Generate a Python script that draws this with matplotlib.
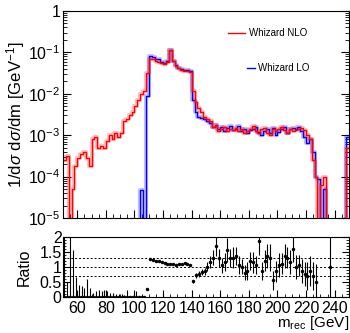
import numpy as np
import matplotlib
matplotlib.use("Agg")
import matplotlib.pyplot as plt
from matplotlib.ticker import MultipleLocator, LogLocator, FixedLocator, FuncFormatter, NullFormatter

plt.rcParams['font.family'] = ['Liberation Sans', 'DejaVu Sans']
plt.rcParams['mathtext.fontset'] = 'custom'
plt.rcParams['mathtext.rm'] = 'Liberation Sans'
plt.rcParams['mathtext.it'] = 'Liberation Sans:italic'

# binning: 2 GeV bins from 50 to 250
edges = np.arange(50, 252, 2)

# log10 of 1/sigma dsigma/dm (-9 = empty bin)
nlo_log = [-3.6, -3.5, -9, -4.3, -3.75, -3.55, -3.45, -3.4, -3.55, -3.75,
           -3.1, -3.05, -3.3, -3.25, -3.3, -3.15, -3.0, -3.1, -2.95, -3.05,
           -2.95, -2.65, -2.6, -2.5, -2.45, -2.3, -2.15, -2.0, -1.92, -1.5,
           -1.16, -1.17, -1.2, -1.22, -1.25, -1.27, -1.22, -0.94, -1.2, -1.32,
           -1.38, -1.42, -1.44, -1.46, -1.48, -1.92, -2.2, -2.35, -2.45, -2.55,
           -2.6, -2.65, -2.8, -2.75, -2.9, -2.85, -2.8, -2.9, -2.85, -2.88,
           -2.82, -2.9, -2.85, -2.95, -2.9, -2.85, -2.78, -2.9, -2.95, -2.85,
           -2.82, -2.95, -3.0, -2.85, -2.9, -2.85, -2.8, -2.88, -2.95, -2.85,
           -2.9, -2.88, -2.85, -2.82, -2.88, -3.0, -3.1, -3.6, -4.0, -9,
           -4.2, -4.0, -9, -9, -9, -9, -9, -9, -9, -3.3]
lo_log = [-9] * 27 + [-4.33, -9, -2.05,
          -1.08, -1.1, -1.15, -1.17, -1.22, -1.25, -1.2, -0.95, -1.2, -1.3,
          -1.37, -1.4, -1.42, -1.43, -1.45, -2.15, -2.45, -2.55, -2.58, -2.6,
          -2.65, -2.7, -2.8, -2.75, -2.85, -2.8, -2.9, -2.82, -2.78, -2.88,
          -2.85, -2.78, -2.9, -2.85, -2.95, -2.88, -2.85, -2.8, -2.92, -3.0,
          -2.9, -2.85, -2.95, -2.82, -3.0, -2.92, -2.85, -2.8, -2.95, -2.85,
          -2.82, -2.85, -2.8, -2.9, -3.05, -3.2, -3.1, -3.4, -4.0, -4.05,
          -9, -4.3, -9, -9, -9, -9, -9, -9, -9, -3.05]

# ratio LO/NLO and its error (nan = no point)
ratio = [0] * 29 + [0.28,
         1.25, 1.23, 1.2, 1.18, 1.15, 1.12, 1.1, 1.08, 1.1, 1.07,
         1.08, 1.1, 1.13, 1.08, 1.05, 0.52, 0.72, 0.75, 0.82, 0.85,
         1.0, 1.15, 1.3, 1.7, 1.3, 1.05, 1.15, 1.55, 1.3, 1.3,
         1.35, 1.05, 1.0, 0.8, 0.85, 1.2, 1.15, 1.05, 1.85, 0.85,
         1.2, 1.35, 1.3, 0.55, 0.85, 1.05, 1.1, 1.35, 1.3, 1.15,
         1.6, 1.0, 1.05, 0.85, 0.75, 0.7, 0.85, 0.7, 0.5, np.nan,
         np.nan, np.nan, np.nan, 1.0, np.nan, np.nan, np.nan, np.nan, np.nan, np.nan]
ratio_err = [2.5, 0.5, 2.5, 1.55, 0.65, 0.4, 0.35, 0.3, 0.6, 0.3,
             0.15, 0.2, 0.25, 0.2, 0.22, 0.2, 0.15, 0.15, 0.1, 0.1,
             0.1, 0.08, 0.25, 0.05, 0.05, 0.2, 0.05, 0.05, 0.05, 0.03,
             0.02, 0.02, 0.02, 0.02, 0.02, 0.02, 0.02, 0.02, 0.02, 0.02,
             0.02, 0.03, 0.03, 0.03, 0.03, 0.05, 0.08, 0.1, 0.1, 0.12,
             0.15, 0.2, 0.25, 0.35, 0.3, 0.25, 0.3, 0.4, 0.3, 0.35,
             0.3, 0.3, 0.25, 0.25, 0.3, 0.3, 0.35, 0.3, 0.45, 0.3,
             0.35, 0.4, 0.45, 0.3, 0.35, 0.4, 0.35, 0.4, 0.35, 0.4,
             0.45, 0.4, 0.35, 0.4, 0.4, 0.45, 0.5, 0.45, 0.6, 0,
             0, 0, 0, 2.5, 0, 0, 0, 0, 0, 0]

centers = 0.5 * (edges[:-1] + edges[1:])
nlo = 10.0 ** np.array(nlo_log)
lo = 10.0 ** np.array(lo_log)

fig = plt.figure(figsize=(3.5, 3.33), dpi=100)
ax = fig.add_axes([0.18, 0.3453, 0.817, 0.6216])
rax = fig.add_axes([0.18, 0.108, 0.817, 0.181])

# top panel: histograms as steps with a soft band
for vals, col in [(lo, 'blue'), (nlo, 'red')]:
    y = np.append(vals, vals[-1])
    ax.step(edges, y, where='post', color=col, lw=3, alpha=0.25)
    ax.step(edges, y, where='post', color=col, lw=1.0)

ax.set_yscale('log')
ax.set_xlim(50, 250)
ax.set_ylim(1e-5, 1)
ax.set_ylabel(r'1/d$\sigma$ d$\sigma$/dm [GeV$^{-1}$]', fontsize=12)
ax.yaxis.set_label_coords(-0.125, 0.5)

def log_fmt(v, pos):
    if abs(v - 1) < 1e-9:
        return '1'
    return r'$10^{%d}$' % int(round(np.log10(v)))

ax.yaxis.set_major_formatter(FuncFormatter(log_fmt))
ax.yaxis.set_minor_locator(LogLocator(base=10, subs=np.arange(2, 10)))
ax.yaxis.set_minor_formatter(NullFormatter())
ax.xaxis.set_major_locator(MultipleLocator(20))
ax.xaxis.set_minor_locator(MultipleLocator(5))
ax.tick_params(axis='both', which='both', direction='in', top=False, right=True,
               labelsize=11.5)
ax.tick_params(axis='y', pad=2)
ax.tick_params(which='major', length=6, width=0.8)
ax.tick_params(which='minor', length=3, width=0.6)
ax.tick_params(axis='x', labelbottom=False)

# legend entries
ax.plot([0.577, 0.636], [0.894, 0.894], color='red', lw=1.0, transform=ax.transAxes)
ax.text(0.65, 0.894, 'Whizard NLO', transform=ax.transAxes, fontsize=7, va='center')
ax.plot([0.644, 0.672], [0.725, 0.725], color='blue', lw=1.0, transform=ax.transAxes)
ax.text(0.683, 0.725, 'Whizard LO', transform=ax.transAxes, fontsize=7, va='center')

# ratio panel
for lvl in [0.7, 1.0, 1.3]:
    rax.axhline(lvl, color='black', lw=0.7, ls=(0, (2, 2)))
rax.errorbar(centers, ratio, yerr=ratio_err, fmt='.', color='black',
             markersize=3, elinewidth=0.8, capsize=0)
rax.set_xlim(50, 250)
rax.set_ylim(0, 2)
rax.set_ylabel('Ratio', fontsize=11.5)
rax.yaxis.set_label_coords(-0.11, 0.5)
rax.set_xlabel(r'm$_{\rm rec}$ [GeV]', fontsize=11, loc='right', labelpad=-1)
rax.xaxis.set_minor_locator(MultipleLocator(5))
rax.yaxis.set_major_locator(FixedLocator([0, 0.5, 1, 1.5, 2]))
rax.yaxis.set_major_formatter(FuncFormatter(lambda v, p: '%g' % v))
rax.yaxis.set_minor_locator(MultipleLocator(0.1))
rax.set_xticks(np.arange(60, 250, 20))
rax.tick_params(axis='both', which='both', direction='in', top=False, right=True,
                labelsize=11.5)
rax.tick_params(axis='x', pad=2.5)
rax.tick_params(axis='y', pad=1)
rax.tick_params(which='major', length=5, width=0.8)
rax.tick_params(which='minor', length=2.5, width=0.6)

fig.savefig('out.png', dpi=100)
